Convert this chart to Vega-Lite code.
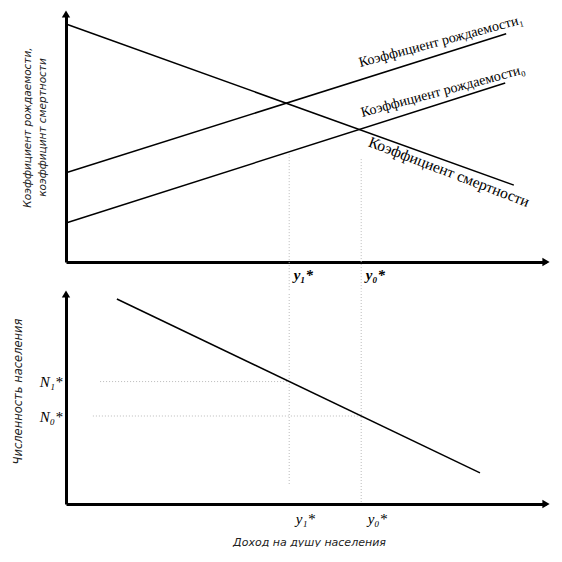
{
  "$schema": "https://vega.github.io/schema/vega-lite/v6.json",
  "background": "white",
  "padding": {"left": 12, "top": 10, "right": 0, "bottom": 0},
  "spacing": 32,
  "bounds": "flush",
  "config": {
    "view": {"stroke": null},
    "axis": {"grid": false, "ticks": false, "domainColor": "black", "domainWidth": 3, "zindex": 1}
  },
  "datasets": {
    "rates": [
      {"series": "death", "x": 0, "y": 96},
      {"series": "death", "x": 93.3, "y": 31},
      {"series": "birth1", "x": 0, "y": 36},
      {"series": "birth1", "x": 91.7, "y": 92},
      {"series": "birth0", "x": 0, "y": 15.7},
      {"series": "birth0", "x": 91.5, "y": 72.2}
    ],
    "population": [
      {"x": 10.6, "y": 97.6},
      {"x": 86.25, "y": 14.8}
    ]
  },
  "vconcat": [
    {
      "width": 480,
      "height": 248,
      "layer": [
        {
          "data": {"values": [
            {"x": 46.5, "y": 43.5, "y2": -12},
            {"x": 61.5, "y": 41.5, "y2": -12}
          ]},
          "mark": {"type": "rule", "color": "#bbbbbb", "strokeWidth": 1, "strokeDash": [1, 2]},
          "encoding": {
            "x": {"field": "x", "type": "quantitative"},
            "y": {"field": "y", "type": "quantitative"},
            "y2": {"field": "y2"}
          }
        },
        {
          "data": {"name": "rates"},
          "mark": {"type": "line", "color": "black", "strokeWidth": 1.5},
          "encoding": {
            "x": {
              "field": "x", "type": "quantitative",
              "scale": {"domain": [0, 100]},
              "axis": {
                "title": null,
                "values": [46.5, 61.5],
                "labelExpr": "datum.value < 50 ? 'y₁*' : 'y₀*'",
                "labelFont": "Liberation Serif",
                "labelFontStyle": "italic",
                "labelFontWeight": "bold",
                "labelFontSize": 15,
                "labelColor": "black",
                "labelAlign": "left",
                "labelOffset": 4,
                "labelPadding": 5
              }
            },
            "y": {
              "field": "y", "type": "quantitative",
              "scale": {"domain": [0, 100]},
              "axis": {
                "labels": false,
                "title": ["Коэффициент рождаемости,", "коэффицинт смертности"],
                "titleFont": "DejaVu Sans",
                "titleFontStyle": "italic",
                "titleFontWeight": "normal",
                "titleFontSize": 10.5,
                "titleColor": "#222",
                "titleLineHeight": 15,
                "titlePadding": 19,
                "titleY": 113
              }
            },
            "detail": {"field": "series"}
          }
        },
        {
          "data": {"values": [{"x": 0, "y": 100, "dir": "up"}]},
          "mark": {"type": "point", "shape": "triangle-up", "filled": true, "color": "black", "opacity": 1, "size": 70},
          "encoding": {
            "x": {"field": "x", "type": "quantitative"},
            "y": {"field": "y", "type": "quantitative"}
          }
        },
        {
          "data": {"values": [{"x": 100, "y": 0, "dir": "right"}]},
          "mark": {"type": "point", "shape": "triangle-right", "filled": true, "color": "black", "opacity": 1, "size": 70},
          "encoding": {
            "x": {"field": "x", "type": "quantitative"},
            "y": {"field": "y", "type": "quantitative"}
          }
        },
        {
          "data": {"values": [
            {"label": "Коэффициент рождаемости₁", "x": 61.3, "y": 78.6},
            {"label": "Коэффициент рождаемости₀", "x": 61.7, "y": 58.5}
          ]},
          "mark": {"type": "text", "font": "Liberation Serif", "fontSize": 14, "align": "left", "baseline": "alphabetic", "angle": -15, "color": "black"},
          "encoding": {
            "x": {"field": "x", "type": "quantitative"},
            "y": {"field": "y", "type": "quantitative"},
            "text": {"field": "label"}
          }
        },
        {
          "data": {"values": [{"label": "Коэффициент смертности", "x": 62.8, "y": 46.8}]},
          "mark": {"type": "text", "font": "Liberation Serif", "fontSize": 15.5, "align": "left", "baseline": "alphabetic", "angle": 21, "color": "black"},
          "encoding": {
            "x": {"field": "x", "type": "quantitative"},
            "y": {"field": "y", "type": "quantitative"},
            "text": {"field": "label"}
          }
        }
      ]
    },
    {
      "width": 480,
      "height": 210,
      "layer": [
        {
          "data": {"values": [
            {"x": 46.5, "y": 100, "y2": 8.6},
            {"x": 61.5, "y": 100, "y2": 0}
          ]},
          "mark": {"type": "rule", "color": "#bbbbbb", "strokeWidth": 1, "strokeDash": [1, 2]},
          "encoding": {
            "x": {"field": "x", "type": "quantitative"},
            "y": {"field": "y", "type": "quantitative"},
            "y2": {"field": "y2"}
          }
        },
        {
          "data": {"values": [
            {"x": 7.1, "x2": 46.5, "y": 58.3},
            {"x": 5.6, "x2": 61.5, "y": 41.9}
          ]},
          "mark": {"type": "rule", "color": "#bbbbbb", "strokeWidth": 1, "strokeDash": [1, 2]},
          "encoding": {
            "x": {"field": "x", "type": "quantitative"},
            "x2": {"field": "x2"},
            "y": {"field": "y", "type": "quantitative"}
          }
        },
        {
          "data": {"name": "population"},
          "mark": {"type": "line", "color": "black", "strokeWidth": 1.5},
          "encoding": {
            "x": {
              "field": "x", "type": "quantitative",
              "scale": {"domain": [0, 100]},
              "axis": {
                "title": "Доход на душу населения",
                "titleFont": "DejaVu Sans",
                "titleFontStyle": "italic",
                "titleFontWeight": "normal",
                "titleFontSize": 11,
                "titleColor": "#222",
                "titleX": 243,
                "titlePadding": 10,
                "values": [46.5, 61.5],
                "labelExpr": "datum.value < 50 ? 'y₁*' : 'y₀*'",
                "labelFont": "Liberation Serif",
                "labelFontStyle": "italic",
                "labelFontSize": 15,
                "labelColor": "black",
                "labelAlign": "left",
                "labelOffset": 6,
                "labelPadding": 7
              }
            },
            "y": {
              "field": "y", "type": "quantitative",
              "scale": {"domain": [0, 100]},
              "axis": {
                "values": [41.9, 58.3],
                "labelExpr": "datum.value > 50 ? 'N₁*' : 'N₀*'",
                "labelFont": "Liberation Serif",
                "labelFontStyle": "italic",
                "labelFontSize": 15,
                "labelColor": "black",
                "labelPadding": 4,
                "title": "Численность населения",
                "titleFont": "DejaVu Sans",
                "titleFontStyle": "italic",
                "titleFontWeight": "normal",
                "titleFontSize": 11.5,
                "titleColor": "#222",
                "titlePadding": 16,
                "titleY": 97
              }
            }
          }
        },
        {
          "data": {"values": [{"x": 0, "y": 100, "dir": "up"}]},
          "mark": {"type": "point", "shape": "triangle-up", "filled": true, "color": "black", "opacity": 1, "size": 70},
          "encoding": {
            "x": {"field": "x", "type": "quantitative"},
            "y": {"field": "y", "type": "quantitative"}
          }
        },
        {
          "data": {"values": [{"x": 100, "y": 0, "dir": "right"}]},
          "mark": {"type": "point", "shape": "triangle-right", "filled": true, "color": "black", "opacity": 1, "size": 70},
          "encoding": {
            "x": {"field": "x", "type": "quantitative"},
            "y": {"field": "y", "type": "quantitative"}
          }
        }
      ]
    }
  ]
}
